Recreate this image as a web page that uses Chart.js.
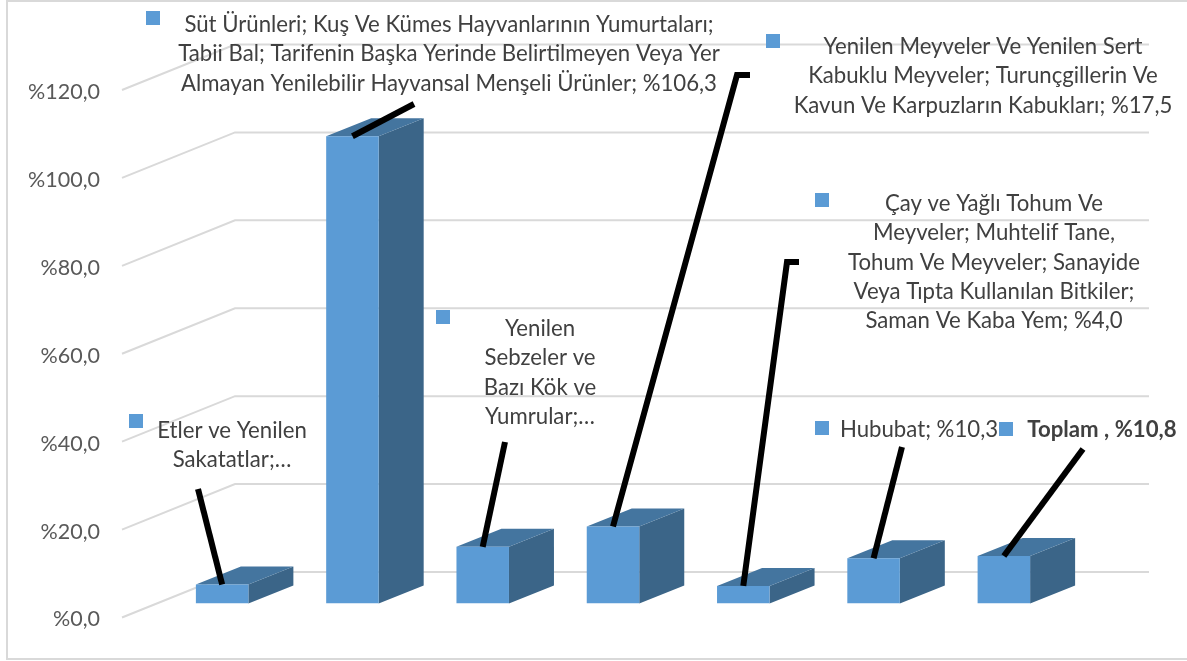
<!DOCTYPE html>
<html>
<head>
<meta charset="utf-8">
<script src="https://cdn.jsdelivr.net/npm/chart.js@4"></script>
<style>
body{margin:0;background:#fff}
canvas{display:block}
</style>
</head>
<body>
<canvas id="chart" width="1187" height="661"></canvas>
<script>
const categories=[
"Etler ve Yenilen Sakatatlar",
"Süt Ürünleri; Kuş Ve Kümes Hayvanlarının Yumurtaları; Tabii Bal; Tarifenin Başka Yerinde Belirtilmeyen Veya Yer Almayan Yenilebilir Hayvansal Menşeli Ürünler",
"Yenilen Sebzeler ve Bazı Kök ve Yumrular",
"Yenilen Meyveler Ve Yenilen Sert Kabuklu Meyveler; Turunçgillerin Ve Kavun Ve Karpuzların Kabukları",
"Çay ve Yağlı Tohum Ve Meyveler; Muhtelif Tane, Tohum Ve Meyveler; Sanayide Veya Tıpta Kullanılan Bitkiler; Saman Ve Kaba Yem",
"Hububat",
"Toplam"
]
const values=[4.3,106.3,12.9,17.5,4.0,10.3,10.8]
const tickValues=[0,20,40,60,80,100,120]

const labelLines=[
["Etler ve Yenilen","Sakatatlar;…"],
["Süt Ürünleri; Kuş Ve Kümes Hayvanlarının Yumurtaları;","Tabii Bal; Tarifenin Başka Yerinde Belirtilmeyen Veya Yer","Almayan Yenilebilir Hayvansal Menşeli Ürünler; %106,3"],
["Yenilen","Sebzeler ve","Bazı Kök ve","Yumrular;…"],
["Yenilen Meyveler Ve Yenilen Sert","Kabuklu Meyveler; Turunçgillerin Ve","Kavun Ve Karpuzların Kabukları; %17,5"],
["Çay ve Yağlı Tohum Ve","Meyveler; Muhtelif Tane,","Tohum Ve Meyveler; Sanayide","Veya Tıpta Kullanılan Bitkiler;","Saman Ve Kaba Yem; %4,0"],
["Hububat; %10,3"],
["Toplam , %10,8"]
]

// layout of the labels, keys and leader lines
const labelBoxes=[
{cx:232,top:431,key:[129,414]},
{cx:449,top:25,key:[146,11]},
{cx:540,top:329,key:[436,310]},
{cx:983,top:47,key:[766,34]},
{cx:994,top:204,key:[815,193]},
{cx:919,top:430,key:[815,421]},
{cx:1102,top:430,key:[999,422],bold:true}
]
const leaderEnds=[
[[198,489]],
[[414,104]],
[[505,442]],
[[737,75],[750,75]],
[[787,262],[799,262]],
[[902,447]],
[[1083,449]]
]

const blue="#5B9BD5"
const sideColor="#3B6588"
const topColor="#44759F"
const gridColor="#D9D9D9"
const textColor="#404040"
const labelShift=2
const barShift=16
const depthX=45
const depthY=18
const wallX=113
const wallY=45.5
const wallLeft=122
const wallRight=1149

function poly(ctx,pts,color){
ctx.fillStyle=color
ctx.beginPath()
pts.forEach((p,i)=>i?ctx.lineTo(p[0],p[1]):ctx.moveTo(p[0],p[1]))
ctx.closePath()
ctx.fill()
}

const box3d={
id:"box3d",
beforeDraw(chart){
const ctx=chart.ctx
const y=chart.scales.y
ctx.save()
// frame
ctx.strokeStyle=gridColor
ctx.lineWidth=2
ctx.beginPath()
ctx.moveTo(1187,1)
ctx.lineTo(7,1)
ctx.lineTo(7,659)
ctx.lineTo(1187,659)
ctx.stroke()
// slanted grid lines
tickValues.forEach(v=>{
const py=y.getPixelForValue(v)-labelShift
ctx.beginPath()
ctx.moveTo(wallLeft,py)
ctx.lineTo(wallLeft+wallX,py-wallY)
ctx.lineTo(wallRight,py-wallY)
ctx.stroke()
})
ctx.restore()
},
beforeDatasetsDraw(chart){
const ctx=chart.ctx
ctx.save()
ctx.translate(0,-barShift)
chart.getDatasetMeta(0).data.forEach(bar=>{
const l=bar.x-bar.width/2
const r=bar.x+bar.width/2
poly(ctx,[[r,bar.y],[r+depthX,bar.y-depthY],[r+depthX,bar.base-depthY],[r,bar.base]],sideColor)
poly(ctx,[[l,bar.y],[l+depthX,bar.y-depthY],[r+depthX,bar.y-depthY],[r,bar.y]],topColor)
})
},
afterDatasetsDraw(chart){
const ctx=chart.ctx
ctx.restore()
ctx.save()
// leader lines
ctx.strokeStyle="#000"
ctx.lineWidth=6
ctx.lineJoin="miter"
chart.getDatasetMeta(0).data.forEach((bar,i)=>{
ctx.beginPath()
ctx.moveTo(bar.x,bar.y-barShift)
leaderEnds[i].forEach(p=>ctx.lineTo(p[0],p[1]))
ctx.stroke()
})
// labels
ctx.textAlign="center"
ctx.textBaseline="middle"
labelLines.forEach((lines,i)=>{
const b=labelBoxes[i]
ctx.fillStyle=blue
ctx.fillRect(b.key[0],b.key[1],14,14)
ctx.fillStyle=textColor
ctx.font=(b.bold?"bold ":"")+"22.2px Lato"
lines.forEach((t,k)=>ctx.fillText(t,b.cx,b.top+k*29.2))
})
ctx.restore()
}
}

new Chart(document.getElementById("chart"),{
type:"bar",
data:{
labels:categories,
datasets:[{
data:values,
backgroundColor:blue,
barPercentage:0.403,
categoryPercentage:1
}]
},
plugins:[box3d],
options:{
responsive:false,
maintainAspectRatio:false,
animation:false,
events:[],
layout:{padding:{top:92,right:118,bottom:41.5,left:0}},
plugins:{legend:{display:false},tooltip:{enabled:false}},
scales:{
x:{display:false,afterFit(scale){scale.height=0}},
y:{
min:0,
max:120,
// the big tick padding would otherwise also reserve room above and below the axis
afterFit(scale){scale.width=157;scale.paddingTop=0;scale.paddingBottom=0},
afterBuildTicks(scale){scale.ticks=tickValues.map(v=>({value:v}))},
grid:{display:false,drawTicks:false},
border:{display:false},
ticks:{
padding:57,
color:"#595959",
font:{family:"Lato",size:21.5},
callback:v=>"%"+v.toFixed(1).replace(".",",")
}
}
}
}
})
</script>
</body>
</html>
